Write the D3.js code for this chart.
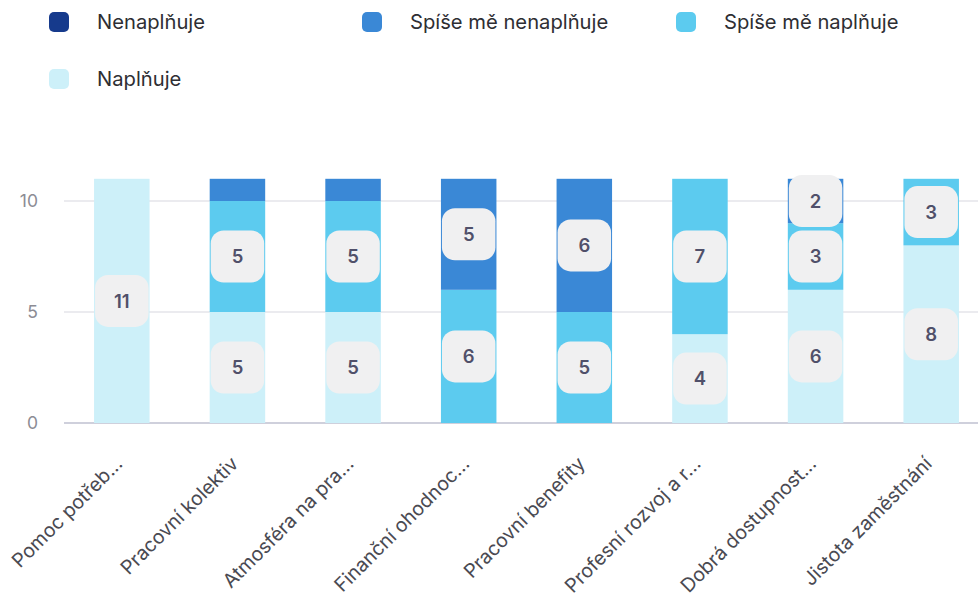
<!DOCTYPE html>
<html>
<head>
<meta charset="utf-8">
<script src="https://cdn.jsdelivr.net/npm/d3@7"></script>
<style>
  html, body { margin: 0; padding: 0; background: #fff; }
  svg { display: block; font-family: Inter, "Noto Sans", sans-serif; }
</style>
</head>
<body>
<svg id="chart" width="978" height="605"></svg>
<script>
// Categories (axis labels as shown, truncated)
const categories = [
  "Pomoc potřeb...",
  "Pracovní kolektiv",
  "Atmosféra na pra...",
  "Finanční ohodnoc...",
  "Pracovní benefity",
  "Profesní rozvoj a r...",
  "Dobrá dostupnost...",
  "Jistota zaměstnání"
];

// Series, stacked bottom to top
const seriesNames = ["Naplňuje", "Spíše mě naplňuje", "Spíše mě nenaplňuje", "Nenaplňuje"];
const naplnuje         = [11, 5, 5, 0, 0, 4, 6, 8];
const spiseNaplnuje    = [0, 5, 5, 6, 5, 7, 3, 3];
const spiseNenaplnuje  = [0, 1, 1, 5, 6, 0, 2, 0];
const nenaplnuje       = [0, 0, 0, 0, 0, 0, 0, 0];
const seriesColors = ["#cdf0f9", "#5ccbef", "#3a88d6", "#163a8c"];

// Legend order
const legendOrder = ["Nenaplňuje", "Spíše mě nenaplňuje", "Spíše mě naplňuje", "Naplňuje"];

const yTicks = [0, 5, 10];

const svg = d3.select("#chart");

const rows = categories.map((c, i) => ({
  cat: c,
  "Naplňuje": naplnuje[i],
  "Spíše mě naplňuje": spiseNaplnuje[i],
  "Spíše mě nenaplňuje": spiseNenaplnuje[i],
  "Nenaplňuje": nenaplnuje[i]
}));

const stacked = d3.stack().keys(seriesNames)(rows);
const color = d3.scaleOrdinal().domain(seriesNames).range(seriesColors);

const x = d3.scaleBand().domain(categories).range([64, 989]).paddingInner(0.52).paddingOuter(0.26);
const y = d3.scaleLinear().domain([0, 10]).range([423, 201]);

// Grid lines
svg.append("g")
  .selectAll("line")
  .data(yTicks)
  .join("line")
  .attr("x1", 64).attr("x2", 978)
  .attr("y1", d => y(d)).attr("y2", d => y(d))
  .attr("stroke", d => d === 0 ? "#cfd0dc" : "#e4e4ea")
  .attr("stroke-width", d => d === 0 ? 2 : 1.5);

// Y tick labels
svg.append("g")
  .selectAll("text")
  .data(yTicks)
  .join("text")
  .attr("x", 38)
  .attr("y", d => y(d))
  .attr("dy", "0.35em")
  .attr("text-anchor", "end")
  .attr("fill", "#8c8c94")
  .attr("font-size", 17.5)
  .text(d => d);

// Bars
const layer = svg.append("g")
  .selectAll("g")
  .data(stacked)
  .join("g")
  .attr("fill", d => color(d.key));

layer.selectAll("rect")
  .data(d => d.filter(s => s[1] - s[0] > 0))
  .join("rect")
  .attr("x", d => x(d.data.cat))
  .attr("width", x.bandwidth())
  .attr("y", d => y(d[1]))
  .attr("height", d => y(d[0]) - y(d[1]));

// Value labels
const labelData = [];
stacked.forEach(s => s.forEach(d => {
  const v = d[1] - d[0];
  if (v >= 2) labelData.push({ cat: d.data.cat, mid: (d[0] + d[1]) / 2, v });
}));

const lbl = svg.append("g")
  .selectAll("g")
  .data(labelData)
  .join("g")
  .attr("transform", d => `translate(${x(d.cat) + x.bandwidth() / 2},${y(d.mid)})`);

lbl.append("rect")
  .attr("x", -x.bandwidth() / 2 + 1)
  .attr("y", -26)
  .attr("width", x.bandwidth() - 2)
  .attr("height", 52)
  .attr("rx", 13)
  .attr("fill", "#f0f0f1");

lbl.append("text")
  .attr("text-anchor", "middle")
  .attr("dy", "0.36em")
  .attr("fill", "#50506a")
  .attr("font-size", 18.5)
  .attr("font-weight", 600)
  .text(d => d.v);

// X axis labels
svg.append("g")
  .selectAll("text")
  .data(categories)
  .join("text")
  .attr("transform", d => `translate(${x(d) + x.bandwidth() / 2 + 2},${465}) rotate(-45)`)
  .attr("text-anchor", "end")
  .attr("fill", "#4a4a52")
  .attr("font-size", 19.5)
  .text(d => d);

// Legend
const legendPos = [
  { x: 49, y: 22 }, { x: 362, y: 22 }, { x: 676, y: 22 }, { x: 49, y: 79 }
];
const leg = svg.append("g")
  .selectAll("g")
  .data(legendOrder)
  .join("g")
  .attr("transform", (d, i) => `translate(${legendPos[i].x},${legendPos[i].y})`);

leg.append("rect")
  .attr("x", 0).attr("y", -10)
  .attr("width", 20).attr("height", 20)
  .attr("rx", 5)
  .attr("fill", d => color(d));

leg.append("text")
  .attr("x", 48)
  .attr("dy", "0.35em")
  .attr("fill", "#2e2e33")
  .attr("font-size", 20.2)
  .text(d => d);
</script>
</body>
</html>
